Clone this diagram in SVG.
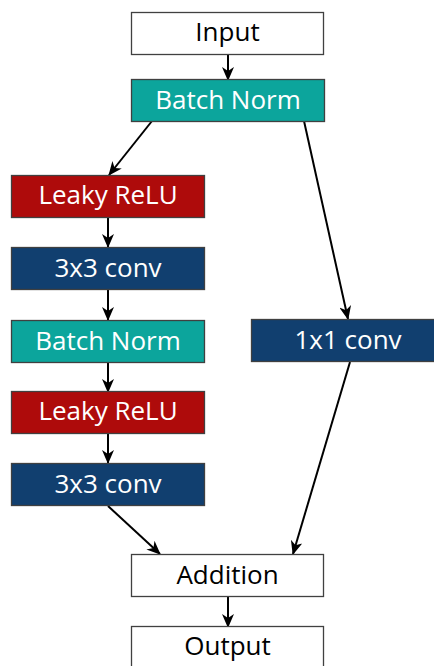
<svg xmlns="http://www.w3.org/2000/svg" width="434" height="666" viewBox="0 0 434 666">
<style>
.b{stroke:#404040;stroke-width:1.3}
.w{fill:#ffffff}
.t{fill:#0ca59c}
.r{fill:#ae0b0b}
.n{fill:#113f6f}
text{font-family:"Open Sans","Noto Sans",sans-serif;font-size:26px;text-anchor:middle;dominant-baseline:central}
.lt{fill:#ffffff}
.dk{fill:#000000}
.c{stroke:#000;stroke-width:2;fill:none;marker-end:url(#a)}
</style>
<defs>
<marker id="a" viewBox="0 0 14 12" refX="13" refY="6" markerWidth="14" markerHeight="12" markerUnits="userSpaceOnUse" orient="auto">
<path d="M0,0 L14,6 L0,12 L4,6 Z" fill="#000"/>
</marker>
</defs>
<g id="connectors">
<line class="c" x1="228" y1="54" x2="228" y2="80"/>
<line class="c" x1="152" y1="121" x2="109" y2="175"/>
<line class="c" x1="304" y1="121" x2="348" y2="319"/>
<line class="c" x1="108" y1="217" x2="108" y2="247"/>
<line class="c" x1="108" y1="289" x2="108" y2="320"/>
<line class="c" x1="108" y1="362" x2="108" y2="392"/>
<line class="c" x1="108" y1="433" x2="108" y2="463"/>
<line class="c" x1="108" y1="506" x2="160" y2="554"/>
<line class="c" x1="350" y1="362" x2="293" y2="554"/>
<line class="c" x1="228" y1="597" x2="228" y2="627"/>
</g>
<g id="input"><rect class="b w" x="131.5" y="12.5" width="192" height="42"/><text class="dk" x="227.5" y="30.5">Input</text></g>
<g id="bn1"><rect class="b t" x="131.5" y="79.5" width="193" height="42"/><text class="lt" x="228" y="99">Batch Norm</text></g>
<g id="lrelu1"><rect class="b r" x="11.5" y="175.5" width="193" height="42"/><text class="lt" x="108" y="194">Leaky ReLU</text></g>
<g id="conv1"><rect class="b n" x="11.5" y="247.5" width="193" height="42"/><text class="lt" x="108" y="266.5">3x3 conv</text></g>
<g id="bn2"><rect class="b t" x="11.5" y="320.5" width="193" height="42"/><text class="lt" x="108" y="340">Batch Norm</text></g>
<g id="conv1x1"><rect class="b n" x="251.5" y="319.5" width="193" height="42"/><text class="lt" x="348" y="338.5">1x1 conv</text></g>
<g id="lrelu2"><rect class="b r" x="11.5" y="391.5" width="193" height="42"/><text class="lt" x="108" y="410">Leaky ReLU</text></g>
<g id="conv2"><rect class="b n" x="11.5" y="463.5" width="193" height="42"/><text class="lt" x="108" y="482.5">3x3 conv</text></g>
<g id="addition"><rect class="b w" x="131.5" y="554.5" width="192" height="42"/><text class="dk" x="227.5" y="574">Addition</text></g>
<g id="output"><rect class="b w" x="131.5" y="626.5" width="192" height="42"/><text class="dk" x="227.5" y="645">Output</text></g>
</svg>
